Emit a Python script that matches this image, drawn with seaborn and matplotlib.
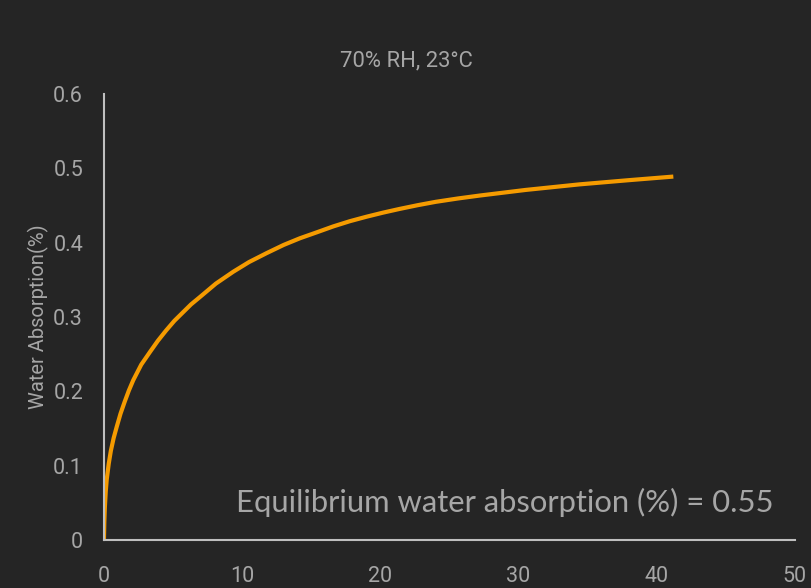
import numpy as np
import matplotlib
matplotlib.use('Agg')
import matplotlib.pyplot as plt
import pandas as pd
import seaborn as sns

# values
time_days = [0.0, 0.03, 0.07, 0.13, 0.2, 0.35, 0.5, 0.7, 0.92, 1.2, 1.5, 1.8, 2.12,
             2.7, 3.33, 3.9, 4.5, 5.1, 5.7, 6.3, 6.95, 8.1, 9.36, 10.5, 11.77,
             13.0, 14.18, 15.4, 16.6, 17.8, 19.0, 20.2, 21.4, 22.7, 24.0, 25.6,
             27.2, 30.5, 34.4, 38.0, 41.2]
absorption = [0.0, 0.025, 0.045, 0.065, 0.081, 0.103, 0.12, 0.137, 0.152, 0.17,
              0.186, 0.201, 0.215, 0.236, 0.253, 0.268, 0.282, 0.295, 0.306, 0.317,
              0.327, 0.345, 0.361, 0.374, 0.386, 0.397, 0.406, 0.414, 0.422, 0.429,
              0.435, 0.4405, 0.4455, 0.4505, 0.455, 0.4595, 0.4635, 0.471, 0.4785,
              0.4842, 0.489]

x_ticks = [0, 10, 20, 30, 40, 50]
y_ticks = [0, 0.1, 0.2, 0.3, 0.4, 0.5, 0.6]
y_ticklabels = ['0', '0.1', '0.2', '0.3', '0.4', '0.5', '0.6']

title = '70% RH, 23°C'
ylabel = 'Water Absorption(%)'
note = 'Equilibrium water absorption (%) = 0.55'

bg = '#252525'
txt = '#a6a6a6'
orange = '#f59b00'

sns.set_theme(style='white')
plt.rcParams['font.family'] = ['Roboto', 'DejaVu Sans']

df = pd.DataFrame({'days': time_days, 'abs': absorption})

fig = plt.figure(figsize=(8.12, 5.88), dpi=100, facecolor=bg)
ax = fig.add_axes([0.128, 0.0816, 0.851, 0.7584])
ax.set_facecolor(bg)

sns.lineplot(data=df, x='days', y='abs', ax=ax, color=orange, linewidth=3,
             solid_capstyle='butt')

ax.set_xlim(0, 50)
ax.set_ylim(0, 0.6)
ax.set_xticks(x_ticks)
ax.set_yticks(y_ticks)
ax.set_yticklabels(y_ticklabels)
ax.tick_params(axis='both', length=0, labelsize=15.5, colors=txt)
ax.tick_params(axis='y', pad=15)
ax.tick_params(axis='x', pad=19)

sns.despine(ax=ax)
for s in ['left', 'bottom']:
    ax.spines[s].set_color('#bfbfbf')
    ax.spines[s].set_linewidth(1.5)

ax.set_xlabel('')
ax.set_ylabel(ylabel, color=txt, fontsize=14.5, labelpad=3)

fig.text(0.5, 0.897, title, ha='center', va='center', color=txt, fontsize=15.8)
ax.text(0.191, 0.085, note, transform=ax.transAxes, ha='left', va='center',
        color=txt, fontsize=22.3, family=['Lato', 'DejaVu Sans'])

fig.savefig('out.png', dpi=100, facecolor=bg)
